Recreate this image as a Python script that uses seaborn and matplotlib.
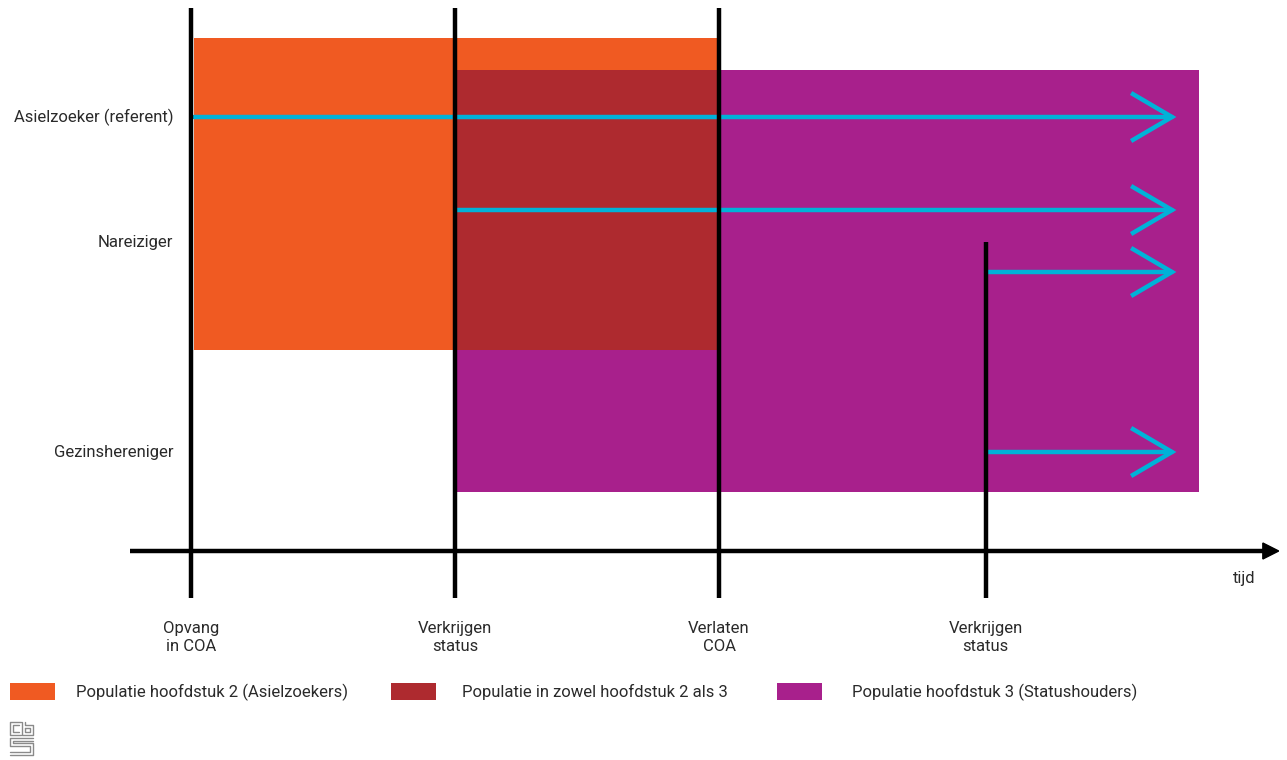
import matplotlib
matplotlib.use("Agg")
import matplotlib.pyplot as plt
import seaborn as sns
import pandas as pd
from matplotlib.patches import Rectangle, Polygon

sns.set_theme(style="white")
plt.rcParams['font.family'] = ['Roboto', 'DejaVu Sans']

# ---- data ----
event_times = [0.0, 1.0, 2.0, 3.01]
event_labels = ["Opvang\nin COA", "Verkrijgen\nstatus", "Verlaten\nCOA", "Verkrijgen\nstatus"]
event_tops = [5.43, 5.43, 5.43, 3.09]

row_labels = ["Asielzoeker (referent)", "Nareiziger", "Gezinshereniger"]
row_label_y = [4.34, 3.09, 0.98]

# blocks: (start, end, bottom, top)
block_names = ["Populatie hoofdstuk 2 (Asielzoekers)",
               "Populatie hoofdstuk 3 (Statushouders)",
               "Populatie in zowel hoofdstuk 2 als 3"]
block_start = [0.01, 1.0, 1.0]
block_end = [2.0, 3.82, 2.0]
block_bottom = [2.01, 0.59, 2.01]
block_top = [5.13, 4.81, 4.81]
block_colors = ["#F05A22", "#A8208C", "#AE2A2F"]

# trajectories (cyan arrows)
traj_start = [0.01, 1.0, 3.01, 3.01]
traj_end = [3.716, 3.716, 3.716, 3.716]
traj_y = [4.34, 3.41, 2.79, 0.99]

legend_order = [0, 2, 1]

TXT = "#2a2a2a"
FS = 12

# ---- figure ----
fig = plt.figure(figsize=(12.87, 7.6), dpi=100)
ax = fig.add_axes([0, 0, 1, 1])
ax.set_xlim(-0.7235, 4.1515)
ax.set_ylim(-2.09, 5.51)
ax.axis("off")

for s, e, b, t, c in zip(block_start, block_end, block_bottom, block_top, block_colors):
    ax.add_patch(Rectangle((s, b), e - s, t - b, facecolor=c, edgecolor="none", zorder=1))

cyan = "#00B2D8"
df = pd.DataFrame({
    "t": [v for pair in zip(traj_start, traj_end) for v in pair],
    "y": [v for y in traj_y for v in (y, y)],
    "id": [i for i in range(len(traj_y)) for _ in range(2)],
})
sns.lineplot(data=df, x="t", y="y", units="id", estimator=None, color=cyan,
             lw=3.2, ax=ax, zorder=3, sort=False)
back, half = 0.155, 0.24
for e, y in zip(traj_end, traj_y):
    ax.plot([e - back, e, e - back], [y + half, y, y - half], color=cyan, lw=3.2,
            solid_joinstyle="miter", solid_capstyle="butt", zorder=3)

# time axis
ax.plot([-0.23, 4.07], [0, 0], color="black", lw=3.2, zorder=4, solid_capstyle="butt")
ax.add_patch(Polygon([[4.06, 0.08], [4.12, 0], [4.06, -0.08]], closed=True,
                     facecolor="black", edgecolor="black", zorder=4))
ax.text(3.99, -0.27, "tijd", ha="center", va="center", fontsize=FS, color=TXT)

# event lines
for t, top, lab in zip(event_times, event_tops, event_labels):
    ax.plot([t, t], [-0.47, top], color="black", lw=3.2, zorder=5, solid_capstyle="butt")
    ax.text(t, -0.865, lab, ha="center", va="center", fontsize=FS, color=TXT,
            linespacing=1.3)

for lab, y in zip(row_labels, row_label_y):
    ax.text(-0.068, y, lab, ha="right", va="center", fontsize=FS, color=TXT)

# legend
leg_x = [-0.686, 0.757, 2.220]
leg_text_x = [-0.4356, 1.0265, 2.504]
for lx, tx, i in zip(leg_x, leg_text_x, legend_order):
    ax.add_patch(Rectangle((lx, -1.49), 0.172, 0.17, facecolor=block_colors[i],
                           edgecolor="none"))
    ax.text(tx, -1.41, block_names[i], ha="left", va="center",
            fontsize=FS, color=TXT)

# cbs logo (approximation)
g = "#8a8a8a"
lw = 1.0
def px(x, y):
    return (x - 191) / 264.0, (551 - y) / 100.0
segs = [
    [(21, 722), (10, 722), (10, 735), (21, 735)],
    [(19, 725), (13, 725), (13, 732), (19, 732)],
    [(22, 722), (22, 735), (33, 735), (33, 725), (25, 725), (25, 722)],
    [(25, 728), (30, 728), (30, 732), (25, 732), (25, 728)],
    [(33, 738), (10, 738), (10, 746), (30, 746), (30, 752), (10, 752)],
    [(33, 741), (13, 741), (13, 743), (33, 743), (33, 755), (10, 755)],
]
for s in segs:
    pts = [px(x, y) for x, y in s]
    ax.plot([p[0] for p in pts], [p[1] for p in pts], color=g, lw=lw)

fig.savefig("out.png", dpi=100)
